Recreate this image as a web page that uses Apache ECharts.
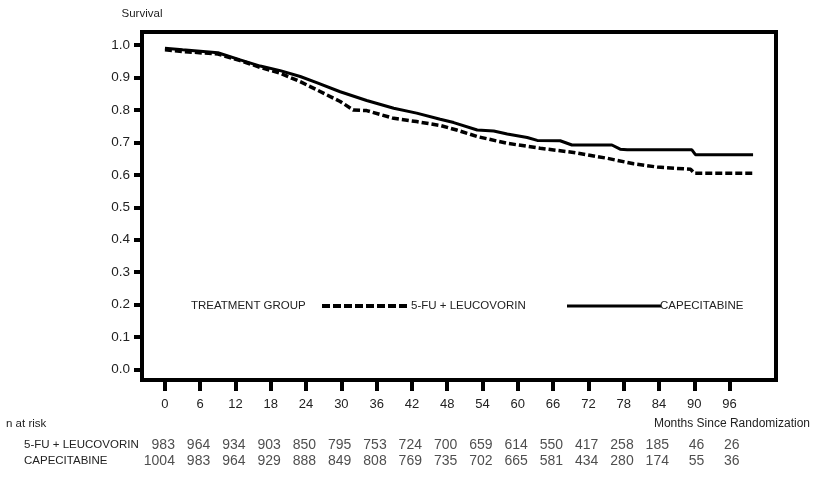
<!DOCTYPE html>
<html>
<head>
<meta charset="utf-8">
<script src="https://cdn.jsdelivr.net/npm/echarts@6/dist/echarts.min.js"></script>
<style>html,body{margin:0;padding:0;background:#fff}#c{width:815px;height:480px}</style>
</head>
<body>
<div id="c"></div>
<script>
// ---- data ----
var xTicks = [0, 6, 12, 18, 24, 30, 36, 42, 48, 54, 60, 66, 72, 78, 84, 90, 96];
var yTicks = [0, 0.1, 0.2, 0.3, 0.4, 0.5, 0.6, 0.7, 0.8, 0.9, 1.0];
var capeMonths = [0, 3, 7, 9, 12.8, 16.2, 19.6, 23, 25.8, 29.8, 34.3, 38.9, 42.8, 46.8, 49.1, 53.1, 55.9, 58.2, 61.6, 63.3, 67.2, 69.2, 76, 77.4, 78.6, 89.6, 90.2, 100];
var capeSurv   = [0.99, 0.985, 0.979, 0.976, 0.954, 0.935, 0.921, 0.903, 0.884, 0.856, 0.829, 0.805, 0.79, 0.771, 0.761, 0.738, 0.735, 0.726, 0.715, 0.706, 0.705, 0.692, 0.692, 0.679, 0.677, 0.677, 0.662, 0.662];
var fuMonths = [0, 3, 9, 12.8, 16.2, 19.6, 23, 25.8, 29.8, 32, 34.3, 38.9, 42.8, 46.8, 49.6, 53.1, 58.2, 63.8, 69.5, 75.2, 79.7, 83.7, 89.4, 90, 100];
var fuSurv   = [0.985, 0.98, 0.972, 0.952, 0.931, 0.913, 0.887, 0.862, 0.826, 0.80, 0.798, 0.774, 0.764, 0.752, 0.738, 0.718, 0.697, 0.682, 0.669, 0.651, 0.634, 0.624, 0.617, 0.605, 0.605];
var riskMonths = [0, 6, 12, 18, 24, 30, 36, 42, 48, 54, 60, 66, 72, 78, 84, 90, 96];
var fuRisk   = [983, 964, 934, 903, 850, 795, 753, 724, 700, 659, 614, 550, 417, 258, 185, 46, 26];
var capeRisk = [1004, 983, 964, 929, 888, 849, 808, 769, 735, 702, 665, 581, 434, 280, 174, 55, 36];
var rowNames = ['5-FU + LEUCOVORIN', 'CAPECITABINE'];

function pairs(xs, ys) { return xs.map(function (x, i) { return [x, ys[i]]; }); }
function riskData(row, vals) { return riskMonths.map(function (m, i) { return [m, row, vals[i]]; }); }

var FONT = 'Liberation Sans, Arial, sans-serif';
var chart = echarts.init(document.getElementById('c'));
chart.setOption({
  animation: false,
  backgroundColor: '#fff',
  grid: [
    { left: 142, right: 39, top: 32, bottom: 100, show: true, borderColor: '#000', borderWidth: 4, backgroundColor: 'transparent' },
    { left: 142, right: 39, top: 437, height: 32 }
  ],
  xAxis: [
    { type: 'value', gridIndex: 0, min: -3.9, max: 103.9,
      axisLine: { show: false, onZero: false }, splitLine: { show: false },
      axisTick: { show: true, customValues: xTicks, length: 11, lineStyle: { color: '#000', width: 4 } },
      axisLabel: { customValues: xTicks, margin: 18, color: '#222', fontSize: 13, fontFamily: FONT } },
    { type: 'value', gridIndex: 1, min: -3.9, max: 103.9, show: false }
  ],
  yAxis: [
    { type: 'value', gridIndex: 0, min: -0.032, max: 1.04,
      name: 'Survival', nameLocation: 'end', nameGap: 12,
      nameTextStyle: { color: '#222', fontSize: 11.5, fontFamily: FONT, align: 'center' },
      axisLine: { show: false, onZero: false }, splitLine: { show: false },
      axisTick: { show: true, customValues: yTicks, length: 8, lineStyle: { color: '#000', width: 4 } },
      axisLabel: { customValues: yTicks, margin: 12, color: '#222', fontSize: 13.5, fontFamily: FONT,
        formatter: function (v) { return v.toFixed(1); } } },
    { type: 'category', gridIndex: 1, data: rowNames, inverse: true,
      axisLine: { show: false, onZero: false }, axisTick: { show: false }, splitLine: { show: false },
      axisLabel: { align: 'left', margin: 118, color: '#222', fontSize: 11.5, fontFamily: FONT } }
  ],
  series: [
    { name: 'CAPECITABINE', type: 'line', xAxisIndex: 0, yAxisIndex: 0, data: pairs(capeMonths, capeSurv),
      symbol: 'none', lineStyle: { color: '#000', width: 3 }, z: 3 },
    { name: '5-FU + LEUCOVORIN', type: 'line', xAxisIndex: 0, yAxisIndex: 0, data: pairs(fuMonths, fuSurv),
      symbol: 'none', lineStyle: { color: '#000', width: 3.5, type: [7, 3] }, z: 3 },
    { type: 'scatter', xAxisIndex: 1, yAxisIndex: 1, symbolSize: 1, itemStyle: { color: 'transparent' },
      data: riskData(rowNames[0], fuRisk).concat(riskData(rowNames[1], capeRisk)),
      label: { show: true, position: 'inside', align: 'right', offset: [10, 0], color: '#222', fontSize: 14, fontFamily: FONT,
        formatter: function (p) { return p.value[2]; } } }
  ],
  graphic: [
    { type: 'text', x: 6, y: 424, style: { text: 'n at risk', fill: '#222', font: '11.5px ' + FONT, verticalAlign: 'middle' } },
    { type: 'text', x: 810, y: 424, style: { text: 'Months Since Randomization', fill: '#222', font: '12px ' + FONT, align: 'right', verticalAlign: 'middle' } },
    { type: 'text', x: 191, y: 306, style: { text: 'TREATMENT GROUP', fill: '#222', font: '11.5px ' + FONT, verticalAlign: 'middle' } },
    { type: 'line', shape: { x1: 322, y1: 306, x2: 410, y2: 306 }, style: { stroke: '#000', lineWidth: 4, lineDash: [8, 3] } },
    { type: 'text', x: 411, y: 306, style: { text: '5-FU + LEUCOVORIN', fill: '#222', font: '11.5px ' + FONT, verticalAlign: 'middle' } },
    { type: 'line', shape: { x1: 567, y1: 306, x2: 661, y2: 306 }, style: { stroke: '#000', lineWidth: 3 } },
    { type: 'text', x: 660, y: 306, style: { text: 'CAPECITABINE', fill: '#222', font: '11.5px ' + FONT, verticalAlign: 'middle' } }
  ]
});
</script>
</body>
</html>
